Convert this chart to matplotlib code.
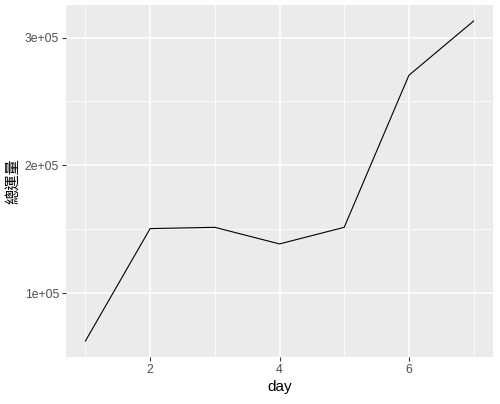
import matplotlib
matplotlib.use("Agg")
import matplotlib.pyplot as plt
from matplotlib.ticker import FixedLocator

plt.rcParams["font.family"] = ["Liberation Sans", "Noto Sans CJK TC", "DejaVu Sans"]

day = [1, 2, 3, 4, 5, 6, 7]
total = [62500, 150500, 151500, 138500, 151500, 270500, 313000]
x_ticks = [2, 4, 6]
x_minor = [1, 3, 5, 7]
y_ticks = [100000, 200000, 300000]
y_minor = [150000, 250000]
y_labels = ["1e+05", "2e+05", "3e+05"]

fig = plt.figure(figsize=(5.0, 4.04), dpi=100)
ax = fig.add_axes([0.132, 0.1163, 0.854, 0.8713])
ax.set_facecolor("#EBEBEB")

ax.plot(day, total, color="black", linewidth=0.8)

span = max(day) - min(day)
ax.set_xlim(min(day) - 0.05 * span, max(day) + 0.05 * span)
yspan = max(total) - min(total)
ax.set_ylim(min(total) - 0.05 * yspan, max(total) + 0.05 * yspan)

ax.set_xticks(x_ticks)
ax.set_xticklabels([str(t) for t in x_ticks])
ax.set_yticks(y_ticks)
ax.set_yticklabels(y_labels)
ax.xaxis.set_minor_locator(FixedLocator(x_minor))
ax.yaxis.set_minor_locator(FixedLocator(y_minor))

ax.grid(True, which="major", color="white", linewidth=1.1)
ax.grid(True, which="minor", color="white", linewidth=0.55)
ax.set_axisbelow(True)
for s in ax.spines.values():
    s.set_visible(False)

ax.tick_params(which="major", length=3, width=0.8, color="#333333",
               labelcolor="#4D4D4D", labelsize=8.8, pad=2)
ax.tick_params(which="minor", length=0)

ax.set_xlabel("day", fontsize=11, labelpad=3)
ax.set_ylabel("總運量", fontsize=11, labelpad=3)

fig.savefig("out.png", dpi=100)
